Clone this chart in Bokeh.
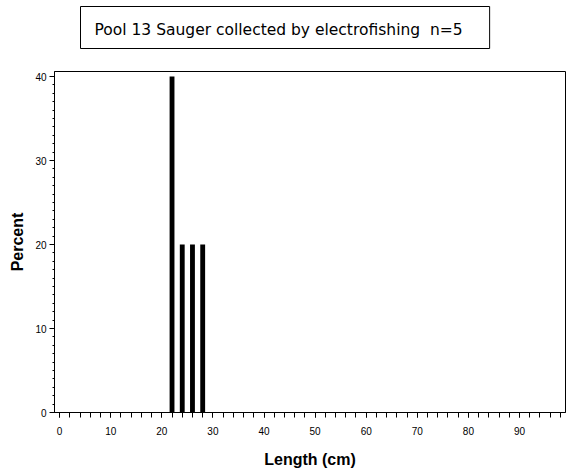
from bokeh.plotting import figure
from bokeh.layouts import column
from bokeh.models import SingleIntervalTicker, Range1d, Label
from bokeh.embed import file_html
from bokeh.resources import INLINE

# Data
lengths = [22, 24, 26, 28]
percents = [40, 20, 20, 20]
title_text = "Pool 13 Sauger collected by electrofishing\u00a0\u00a0n=5"
x_label = "Length (cm)"
y_label = "Percent"

# Title strip
t = figure(width=570, height=60, output_backend="svg", toolbar_location=None,
           x_axis_location=None, y_axis_location=None, min_border=0,
           x_range=Range1d(0, 1), y_range=Range1d(0, 1))
t.xgrid.visible = False
t.ygrid.visible = False
t.outline_line_color = None
t.background_fill_color = "white"
t.border_fill_color = "white"
title = Label(x=26, y=33, x_units="screen", y_units="screen", text=title_text,
              text_font="DejaVu Sans", text_font_size="15.5px", text_color="black",
              text_align="left", text_baseline="alphabetic",
              border_line_color="black", border_line_width=1,
              background_fill_color="white",
              padding=dict(left=14, right=27, top=14, bottom=10))
t.add_layout(title)

# Main chart
p = figure(width=570, height=415, output_backend="svg", toolbar_location=None,
           x_range=Range1d(-1, 99), y_range=Range1d(0, 40.6),
           min_border_left=54, min_border_right=5, min_border_top=11, min_border_bottom=63)

p.vbar(x=lengths, top=percents, bottom=0, width=0.95, fill_color="black", line_color=None)

p.xgrid.visible = False
p.ygrid.visible = False
p.outline_line_color = "black"
p.outline_line_alpha = 1
p.background_fill_color = "white"
p.border_fill_color = "white"

xa = p.xaxis[0]
xa.ticker = SingleIntervalTicker(interval=10, num_minor_ticks=5)
xa.major_tick_out = 5
xa.major_tick_in = 0
xa.minor_tick_out = 5
xa.minor_tick_in = 0
xa.major_label_standoff = 9
xa.axis_label = x_label
xa.axis_label_standoff = 13

ya = p.yaxis[0]
ya.ticker = SingleIntervalTicker(interval=10, num_minor_ticks=10)
ya.major_tick_out = 5
ya.major_tick_in = 0
ya.minor_tick_out = 2
ya.minor_tick_in = 0
ya.major_label_standoff = 3
ya.axis_label = y_label
ya.axis_label_standoff = 6

for a in (xa, ya):
    a.axis_line_color = "black"
    a.major_tick_line_color = "black"
    a.minor_tick_line_color = "black"
    a.major_label_text_color = "black"
    a.major_label_text_font = "Liberation Sans"
    a.major_label_text_font_size = "10px"
    a.axis_label_text_font = "Liberation Sans"
    a.axis_label_text_font_size = "16px"
    a.axis_label_text_font_style = "bold"
    a.axis_label_text_color = "black"

layout = column(t, p, spacing=0)
open("out.html", "w").write(file_html(layout, INLINE))
